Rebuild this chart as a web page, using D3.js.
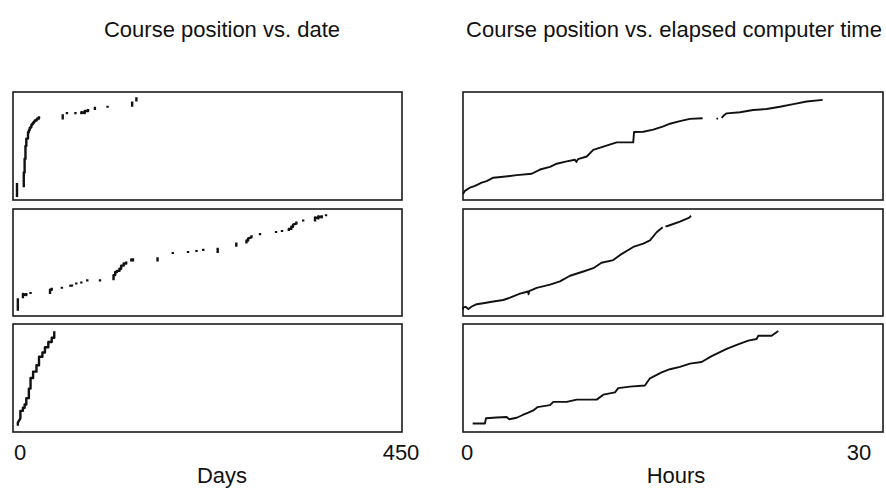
<!DOCTYPE html>
<html>
<head>
<meta charset="utf-8">
<script src="https://cdnjs.cloudflare.com/ajax/libs/d3/7.8.5/d3.min.js"></script>
<style>
  body { margin: 0; background: #fff; }
  text { font-family: "Liberation Sans", Arial, Helvetica, sans-serif; fill: #111; }
</style>
</head>
<body>
<div id="chart"></div>
<script>
var svgWidth = 886;
var svgHeight = 498;

// column titles and axis words
var titles = ["Course position vs. date", "Course position vs. elapsed computer time"];
var axisNames = ["Days", "Hours"];
var dayTicks = [0, 450];
var hourTicks = [0, 30];

// left column: study sessions per course, [day, position before, position after] (% of course)
var daysA = [
  [0, 2, 15],
  [8, 11, 25], [9, 25, 38], [10, 38, 50], [11, 50, 57],
  [13, 57, 63], [14, 63, 65], [15, 65, 67], [16, 67, 68], [17, 68, 70], [18, 70, 71],
  [19, 71, 72], [20, 72, 73], [21, 73, 74], [23, 74, 75], [24, 75, 76], [26, 76, 78],
  [54, 75, 80], [59, 80, 82], [69, 80, 82], [76, 80, 82], [80, 81, 83], [84, 83, 85],
  [92, 84, 87], [107, 86, 88], [136, 87, 92], [141, 92, 96]
];
var daysB = [
  [1, 4, 16], [7, 16, 20], [11, 19, 21], [16, 20, 22], [39, 20, 24], [41, 24, 26],
  [53, 25, 27], [63, 27, 28], [65, 28, 29], [70, 29, 31], [76, 30, 32], [83, 32, 34],
  [98, 32, 34],
  [114, 33, 38], [116, 38, 41], [118, 41, 42], [121, 42, 44], [123, 44, 47],
  [126, 47, 49], [129, 49, 51], [135, 51, 53], [137, 52, 54],
  [166, 51, 55], [184, 58, 60], [202, 59, 61], [212, 60, 62], [220, 61, 63],
  [237, 59, 64], [259, 65, 69], [271, 68, 71], [273, 71, 73], [277, 74, 76],
  [287, 76, 78], [306, 78, 80], [313, 79, 81], [321, 80, 82], [324, 82, 84],
  [326, 84, 86], [330, 87, 89], [338, 89, 91], [352, 89, 93], [356, 92, 94],
  [360, 93, 95], [365, 94, 96]
];
var daysC = [
  [1, 5, 8], [4, 12, 19], [7, 19, 22], [9, 22, 25], [11, 25, 31], [14, 31, 40],
  [16, 40, 50], [19, 50, 56], [23, 56, 62], [26, 62, 70], [30, 70, 74], [33, 74, 79],
  [37, 79, 84], [41, 84, 88], [44, 88, 94]
];

// right column: [hours of computer time, position] (% of course); null = break in trace
var hoursA = [
  [0, 4.6], [0.15, 7.7], [0.54, 10.8], [0.92, 12.3], [1.43, 15.5], [1.81, 16.9],
  [2.32, 20.1], [3.08, 21], [4.11, 22.5], [5.26, 23.8], [5.89, 27.8], [6.66, 30.3],
  [7.17, 33.3], [7.94, 35.5], [8.57, 37], [8.68, 35], [8.8, 37.6], [9.47, 40.1],
  [9.97, 46.3], [10.74, 49.4], [11.76, 53.4], [13.03, 53.4], [13.09, 63.2],
  [13.8, 63.4], [14.56, 65.5], [15.33, 68.5], [15.84, 71], [16.6, 73.4],
  [17.37, 75.6], [18.34, 76.2], null,
  [19.4, 75.6], [19.52, 76], null,
  [19.8, 76.6], [19.95, 78.7], [20.18, 80.8], [21.2, 81.8], [22.2, 84], [23.24, 84.9],
  [24.26, 87], [25.28, 89.5], [26.3, 92], [27.53, 93.5]
];
var hoursB = [
  [0, 5], [0.02, 7.2], [0.2, 7.8], [0.41, 5.6], [0.67, 8.1], [1.05, 10.3],
  [1.55, 11.2], [2.32, 12.8], [3.08, 14.3], [3.6, 16.5], [4.36, 20.3], [4.98, 22.4],
  [5.02, 19.8], [5.06, 22.8], [5.64, 25.9], [6.66, 29], [7.42, 32], [8.19, 37.4],
  [9.21, 41.4], [9.97, 44.6], [10.6, 49.8], [11.5, 52.3], [12.0, 57], [13.03, 64.8],
  [13.8, 68], [14.31, 71], [14.82, 78.8], [15.28, 83.5], null,
  [15.5, 84.2], [15.71, 85], [16.6, 89], [17.32, 92.8], [17.45, 94.5]
];
var hoursC = [
  [0.74, 7.1], [1.68, 7.1], [1.76, 12], [2.58, 12.7], [3.34, 13.2], [3.54, 11.1],
  [4.11, 12.5], [4.57, 15.1], [5.0, 17.3], [5.38, 19.4], [5.69, 22.5], [6.66, 24.4],
  [6.91, 27.5], [7.94, 27.5], [8.7, 29.6], [10.23, 29.6], [10.74, 34.3], [11.63, 36.4],
  [11.88, 40.5], [12.78, 41.9], [13.92, 42.9], [14.31, 49.7], [15.2, 55.3],
  [15.84, 58.3], [16.6, 60.5], [17.37, 63.6], [18.26, 65.1], [19.03, 70.6],
  [20.18, 77.5], [20.95, 81.2], [21.83, 85.2], [22.47, 86.8], [22.6, 89.8],
  [23.62, 89.8], [24.13, 94.4]
];

var dayPanels = [daysA, daysB, daysC];
var hourPanels = [hoursA, hoursB, hoursC];

// layout
var rows = [{top: 92, bottom: 200}, {top: 209, bottom: 316}, {top: 324, bottom: 432}];
var leftBox = {x0: 13, x1: 402, center: 222};
var rightBox = {x0: 463, x1: 883, center: 674};

var svg = d3.select("#chart")
  .append("svg")
  .attr("width", svgWidth)
  .attr("height", svgHeight);

var xDays = d3.scaleLinear().domain([0, 450]).range([17, 398]);
var xHours = d3.scaleLinear().domain([0, 30]).range([463, 855]);

// turn sessions into a broken polyline: a vertical dash per session,
// joined to the next one only when they are a few days apart
function sessionPoints(sessions) {
  var pts = [];
  sessions.forEach(function(s, i) {
    if (i > 0 && s[0] - sessions[i - 1][0] > 4) pts.push(null);
    pts.push([s[0], s[1]]);
    pts.push([s[0], s[2]]);
  });
  return pts;
}

rows.forEach(function(row, i) {
  var y = d3.scaleLinear().domain([0, 100]).range([row.bottom - 1, row.top + 1]);

  // frames
  [leftBox, rightBox].forEach(function(b) {
    svg.append("rect")
      .attr("x", b.x0)
      .attr("y", row.top)
      .attr("width", b.x1 - b.x0)
      .attr("height", row.bottom - row.top)
      .attr("fill", "none")
      .attr("stroke", "#1a1a1a")
      .attr("stroke-width", 1.6);
  });

  var dayLine = d3.line()
    .defined(d => d)
    .x(d => xDays(d[0]))
    .y(d => y(d[1]));

  svg.append("path")
    .datum(sessionPoints(dayPanels[i]))
    .attr("d", dayLine)
    .attr("fill", "none")
    .attr("stroke", "#111")
    .attr("stroke-width", 2.4)
    .attr("stroke-linejoin", "round");

  var hourLine = d3.line()
    .defined(d => d)
    .x(d => xHours(d[0]))
    .y(d => y(d[1]));

  svg.append("path")
    .datum(hourPanels[i])
    .attr("d", hourLine)
    .attr("fill", "none")
    .attr("stroke", "#111")
    .attr("stroke-width", 1.9)
    .attr("stroke-linejoin", "round");
});

// titles
svg.selectAll("text.title")
  .data(titles)
  .enter()
  .append("text")
  .attr("class", "title")
  .attr("x", (d, i) => i === 0 ? leftBox.center : rightBox.center)
  .attr("y", 37)
  .attr("text-anchor", "middle")
  .attr("font-size", "22px")
  .text(d => d);

// end labels of the x axes
dayTicks.forEach(function(t) {
  svg.append("text")
    .attr("x", xDays(t) + 3)
    .attr("y", 460)
    .attr("text-anchor", "middle")
    .attr("font-size", "22px")
    .text(t);
});
hourTicks.forEach(function(t) {
  svg.append("text")
    .attr("x", xHours(t) + 4)
    .attr("y", 460)
    .attr("text-anchor", "middle")
    .attr("font-size", "22px")
    .text(t);
});

svg.selectAll("text.axis-name")
  .data(axisNames)
  .enter()
  .append("text")
  .attr("class", "axis-name")
  .attr("x", (d, i) => i === 0 ? leftBox.center : rightBox.center + 2)
  .attr("y", 483)
  .attr("text-anchor", "middle")
  .attr("font-size", "22px")
  .text(d => d);
</script>
</body>
</html>
